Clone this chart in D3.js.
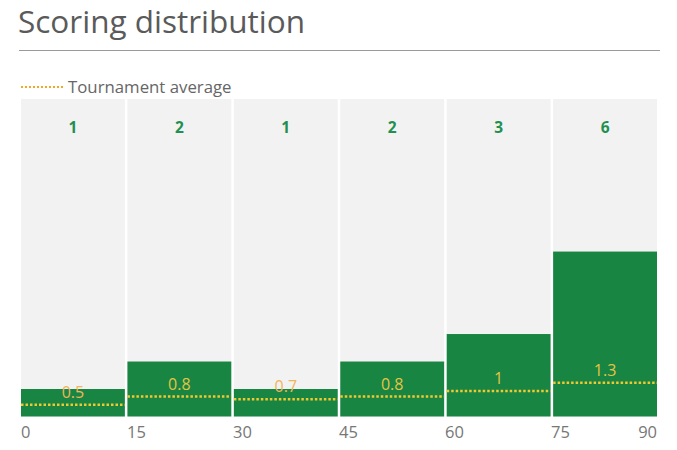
<!DOCTYPE html>
<html>
<head>
<meta charset="utf-8">
<script src="https://cdn.jsdelivr.net/npm/d3@7"></script>
<style>
  body { margin: 0; background: #fff; font-family: "Open Sans", sans-serif; }
</style>
</head>
<body>
<svg id="chart" width="677" height="450"></svg>
<script>
// bins of 15 minutes, goals scored per bin and tournament average
var bins = [0, 15, 30, 45, 60, 75];
var tickLabels = [0, 15, 30, 45, 60, 75, 90];
var goals = [1, 2, 1, 2, 3, 6];
var averages = [0.5, 0.8, 0.7, 0.8, 1, 1.3];

var svg = d3.select("#chart");
var plotLeft = 21, plotRight = 657, plotTop = 99, plotBottom = 416.5;

// title + rule
svg.append("text")
  .attr("x", 18).attr("y", 33)
  .attr("font-size", 31.5).attr("fill", "#5a5a5a")
  .text("Scoring distribution");
svg.append("line")
  .attr("x1", 19).attr("x2", 660).attr("y1", 50.5).attr("y2", 50.5)
  .attr("stroke", "#9a9a9a").attr("stroke-width", 1);

// legend
svg.append("line")
  .attr("x1", 21).attr("x2", 63).attr("y1", 87).attr("y2", 87)
  .attr("stroke", "#f5a623").attr("stroke-width", 2)
  .attr("stroke-dasharray", "2,2");
svg.append("text")
  .attr("x", 68).attr("y", 92.5)
  .attr("font-size", 16.8).attr("fill", "#666")
  .text("Tournament average");

var x = d3.scaleLinear().domain([0, 90]).range([plotLeft, plotRight]);
var band = d3.scaleBand().domain(bins).range([plotLeft, plotRight]).paddingInner(0.024);
var y = d3.scaleLinear().domain([0, 11.55]).range([plotBottom, plotTop]);

var cols = svg.selectAll("g.col").data(bins).enter().append("g").attr("class", "col");

cols.append("rect")
  .attr("x", function(d) { return band(d); })
  .attr("y", plotTop)
  .attr("width", band.bandwidth())
  .attr("height", plotBottom - plotTop)
  .attr("fill", "#f2f2f2");

cols.append("rect")
  .attr("x", function(d) { return band(d); })
  .attr("y", function(d, i) { return y(goals[i]); })
  .attr("width", band.bandwidth())
  .attr("height", function(d, i) { return plotBottom - y(goals[i]); })
  .attr("fill", "#188542");

cols.append("text")
  .attr("x", function(d) { return band(d) + band.bandwidth() / 2; })
  .attr("y", 132.5)
  .attr("text-anchor", "middle")
  .attr("font-size", 15.5).attr("font-weight", 700)
  .attr("fill", "#1f9050")
  .text(function(d, i) { return goals[i]; });

// average lines
cols.append("line")
  .attr("x1", function(d) { return band(d); })
  .attr("x2", function(d) { return band(d) + band.bandwidth(); })
  .attr("y1", function(d, i) { return y(averages[i]) + 2; })
  .attr("y2", function(d, i) { return y(averages[i]) + 2; })
  .attr("stroke", "#f0c830").attr("stroke-width", 2.5)
  .attr("stroke-dasharray", "2.5,2");

cols.append("text")
  .attr("x", function(d) { return band(d) + band.bandwidth() / 2; })
  .attr("y", function(d, i) { return y(averages[i]) - 5; })
  .attr("text-anchor", "middle")
  .attr("font-size", 16)
  .attr("fill", function(d, i) { return goals[i] > averages[i] + 0.5 ? "#e4c444" : "#f3b45a"; })
  .text(function(d, i) { return averages[i]; });

// axis labels
svg.selectAll("text.tick").data(tickLabels).enter().append("text")
  .attr("class", "tick")
  .attr("x", function(d) { return x(d); })
  .attr("y", 438)
  .attr("text-anchor", function(d, i) { return i === tickLabels.length - 1 ? "end" : "start"; })
  .attr("font-size", 16.5).attr("fill", "#777")
  .text(function(d) { return d; });
</script>
</body>
</html>
